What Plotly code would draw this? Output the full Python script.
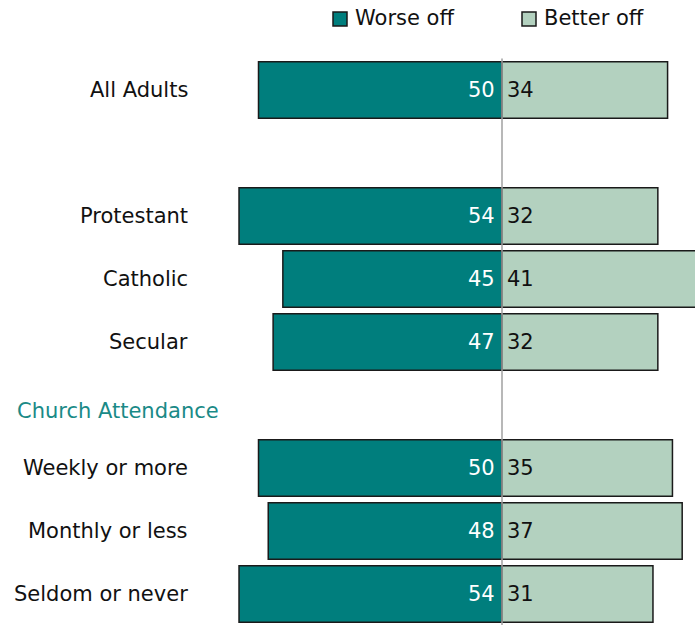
import plotly.graph_objects as go

# Survey results: share saying they are worse off / better off
categories = ["All Adults", "Protestant", "Catholic", "Secular",
              "Weekly or more", "Monthly or less", "Seldom or never"]
row_pos = [0, 2, 3, 4, 6, 7, 8]          # row index of each category (gaps for spacing/header)
worse_off = [50, 54, 45, 47, 50, 48, 54]
better_off = [34, 32, 41, 32, 35, 37, 31]
header_text = "Church Attendance"
header_pos = 5.11

TEAL = "#007E7D"
SAGE = "#B3D1BF"
FONT = "DejaVu Sans"
FS = 21

W, H = 695, 625
px_per_unit = 4.87
zero_px = 502
row0_px, row_step = 90, 63

x_range = [-zero_px / px_per_unit, (W - zero_px) / px_per_unit]
y_range = [(H - row0_px) / row_step, -row0_px / row_step]

fig = go.Figure()
fig.add_trace(go.Bar(
    y=row_pos, x=[-v for v in worse_off], orientation="h", name="Worse off",
    marker=dict(color=TEAL, line=dict(color="#1a1a1a", width=1.5)),
    width=0.9, showlegend=False, hoverinfo="skip",
))
fig.add_trace(go.Bar(
    y=row_pos, x=better_off, orientation="h", name="Better off",
    marker=dict(color=SAGE, line=dict(color="#1a1a1a", width=1.5)),
    width=0.9, showlegend=False, hoverinfo="skip",
))

# Value labels beside the zero line
for pos, w, b in zip(row_pos, worse_off, better_off):
    fig.add_annotation(x=0, y=pos, text=str(w), showarrow=False, xanchor="right",
                       yanchor="middle", xshift=-5,
                       font=dict(size=FS, color="white", family=FONT))
    fig.add_annotation(x=0, y=pos, text=str(b), showarrow=False, xanchor="left",
                       yanchor="middle", xshift=3,
                       font=dict(size=FS, color="#111111", family=FONT))

# Category labels, right aligned left of the bars
label_x = (190 - zero_px) / px_per_unit
for name, pos in zip(categories, row_pos):
    fig.add_annotation(x=label_x, y=pos, text=name, showarrow=False,
                       xanchor="right", yanchor="middle",
                       font=dict(size=FS, color="#111111", family=FONT))
fig.add_annotation(x=(15 - zero_px) / px_per_unit, y=header_pos - 0.015, text=header_text,
                   showarrow=False, xanchor="left", yanchor="middle",
                   font=dict(size=FS, color="#1A8A87", family=FONT))

# Zero line
fig.add_shape(type="line", x0=0, x1=0, xref="x", y0=-0.5, y1=y_range[0], yref="y",
              line=dict(color="#A0A0A0", width=1.5), layer="above")

# Legend drawn as swatches and labels
legend_items = [("Worse off", TEAL, 333), ("Better off", SAGE, 522)]
for text, color, left in legend_items:
    fig.add_shape(type="rect", xref="paper", yref="paper",
                  x0=left / W, x1=(left + 14) / W,
                  y0=1 - 26 / H, y1=1 - 12 / H,
                  fillcolor=color, line=dict(color="#1a1a1a", width=1.5))
    fig.add_annotation(xref="paper", yref="paper", x=(left + 20) / W, y=1 - 18 / H,
                       text=text, showarrow=False, xanchor="left", yanchor="middle",
                       font=dict(size=FS, color="#111111", family=FONT))

fig.update_layout(
    width=W, height=H, margin=dict(l=0, r=0, t=0, b=0),
    paper_bgcolor="white", plot_bgcolor="white", barmode="relative",
    xaxis=dict(range=x_range, visible=False, fixedrange=True),
    yaxis=dict(range=y_range, visible=False, fixedrange=True),
    font=dict(family=FONT),
)
fig.write_html("out.html")
